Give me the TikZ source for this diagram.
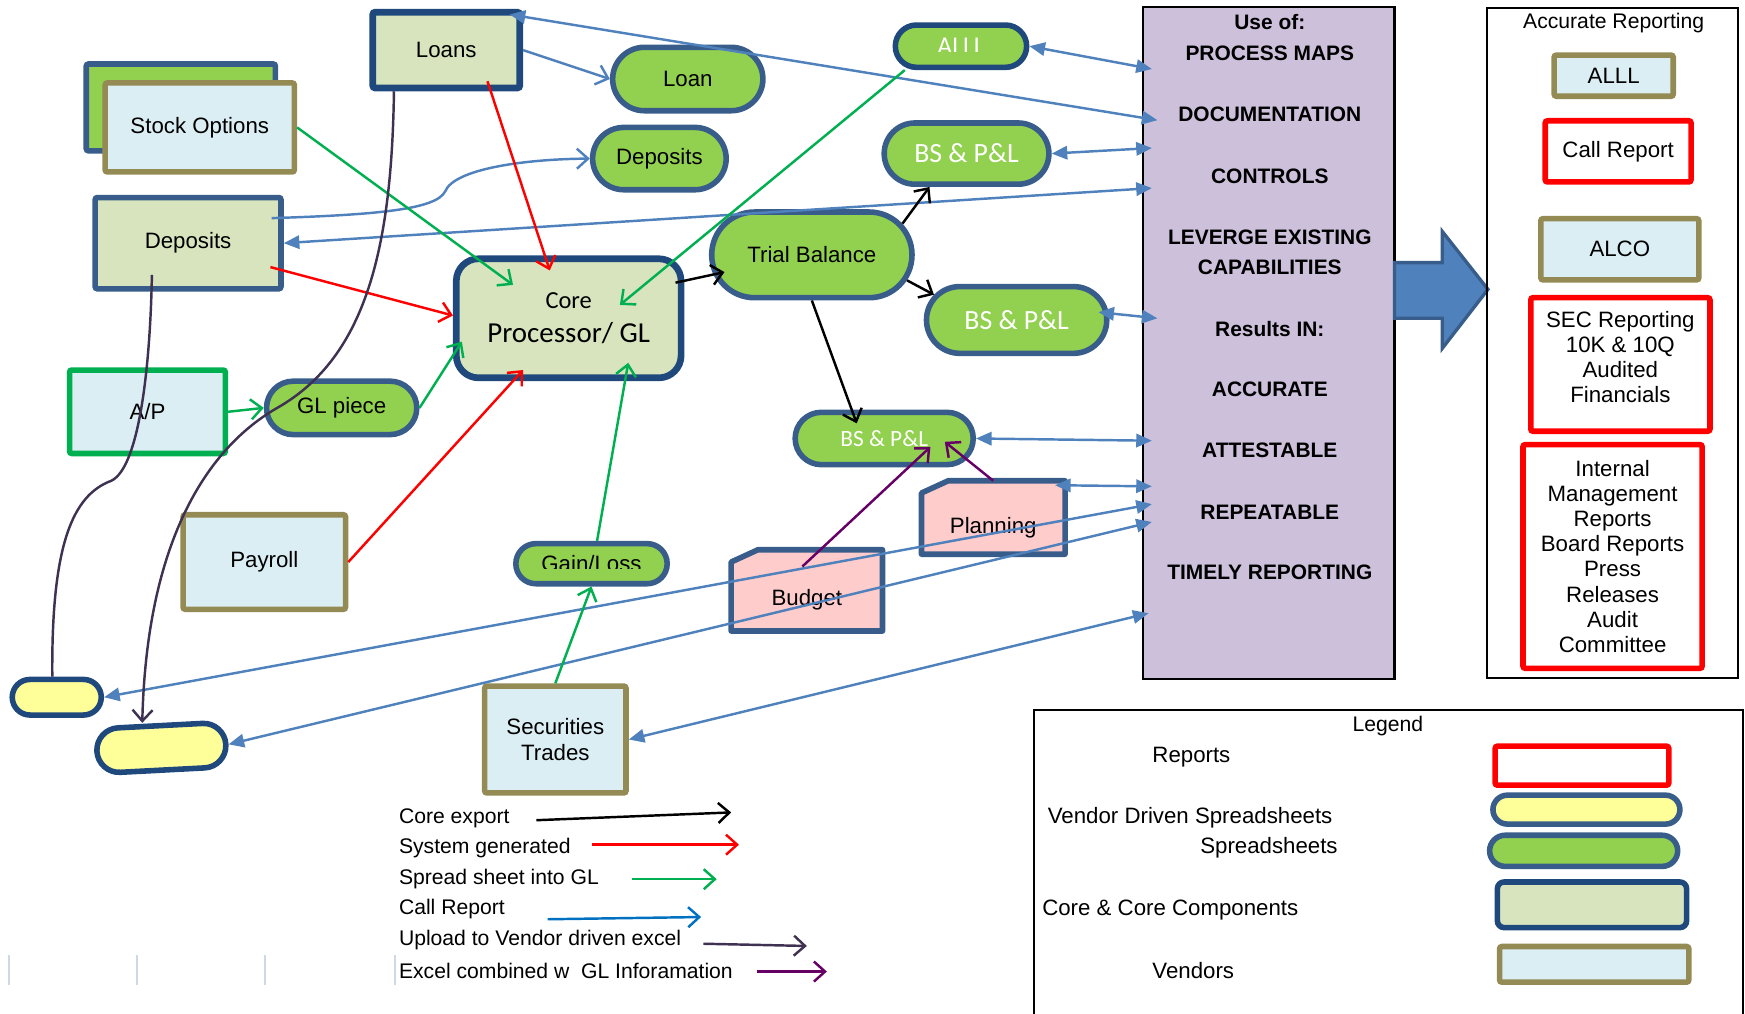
\documentclass[tikz,border=0pt]{standalone}
\usepackage{fontspec}
\setmainfont{Liberation Sans}
\newfontfamily\calib{Carlito}
\usetikzlibrary{arrows.meta, shapes.misc, backgrounds}
\definecolor{cline}{HTML}{385D8A}
\definecolor{cdark}{HTML}{1F497D}
\definecolor{csheet}{HTML}{92D050}
\definecolor{ccore}{HTML}{D7E4BD}
\definecolor{cvend}{HTML}{DBEEF4}
\definecolor{colive}{HTML}{948A54}
\definecolor{cyel}{HTML}{FFFF99}
\definecolor{cpink}{HTML}{FFCCCC}
\definecolor{cpurp}{HTML}{CCC0DA}
\definecolor{cblue}{HTML}{4F81BD}
\definecolor{cgreen}{HTML}{00B050}
\definecolor{cred}{HTML}{FF0000}
\definecolor{cupl}{HTML}{3F3151}
\definecolor{cxgl}{HTML}{660066}
\definecolor{ccall}{HTML}{0070C0}
\definecolor{cgrid}{HTML}{D0D7E5}

\begin{document}
\begin{tikzpicture}[x=1pt, y=-1pt, font=\fontsize{20}{22.6}\selectfont,
      box/.style={rectangle, line width=5pt, inner sep=0pt, align=center},
      sheet/.style={rounded rectangle, draw=cline, fill=csheet, line width=5pt, inner sep=0pt},
      vsheet/.style={sheet, draw=cdark, fill=cyel},
      core/.style={box, rounded corners=8pt, draw=cdark, fill=ccore},
      vend/.style={box, rounded corners=2pt, draw=colive, fill=cvend},
      rpt/.style={box, rounded corners=2pt, draw=cred, fill=white},
      plantxt/.style={box, draw=none, text height=28pt, text depth=0pt},
      planbox/.style={draw=cline, fill=cpink, line width=5pt, line join=round},
      mtext/.style={font=\fontsize{18.8}{20}\selectfont\bfseries},
      bstext/.style={text=white, font=\calib\fontsize{25}{28}\selectfont},
      cexp/.style={-{Straight Barb[length=10pt,width=18pt]}, line width=2.2pt, black},
      sysg/.style={cexp, cred},
      sgl/.style={cexp, cgreen},
      clrep/.style={cexp, ccall},
      vup/.style={line width=2.2pt, cupl},
      xgl/.style={cexp, cxgl},
      crep/.style={{Triangle[length=14pt,width=12pt]}-{Triangle[length=14pt,width=12pt]}, line width=2.2pt, cblue}]
    \useasboundingbox (0,0) rectangle (1568,911);

    % sources and core
    \node[box, rounded corners=2pt, draw=cline, fill=csheet, minimum width=170pt, minimum height=78pt] (stockbg) at (162.5,96.5) {};
    \node[vend, minimum width=170pt, minimum height=80pt] (stock) at (179.5,114.5) {Stock Options};
    \node[core, line width=6pt, rounded corners=2pt, minimum width=132pt, minimum height=68pt] (loans) at (401,45) {Loans};
    \node[core, draw=cline, rounded corners=2pt, minimum width=167pt, minimum height=82pt] (deposits) at (169,218.5) {Deposits};
    \node[vend, draw=cgreen, minimum width=140pt, minimum height=75pt] (ap) at (132.5,370) {A/P};
    \node[vend, minimum width=146pt, minimum height=85pt] (payroll) at (237.5,505) {Payroll};
    \node[vend, minimum width=127pt, minimum height=96pt] (sec) at (499,664.5) {Securities\\Trades};
    \node[core, line width=6pt, rounded corners=20pt, minimum width=202pt, minimum height=107pt,
          font=\calib\fontsize{22}{31}\selectfont] (core) at (511,286) {Core\\{\fontsize{26}{31}\selectfont Processor/ GL}};

    % spreadsheets
    \node[sheet, minimum width=135pt, minimum height=57pt] (loan) at (618,71) {Loan};
    \node[sheet, minimum width=120pt, minimum height=56pt] (depgl) at (592.5,142.5) {Deposits};
    \node[sheet, draw=cdark, minimum width=118pt, minimum height=38pt] (alll) at (863.5,41.5) {};
    \node[sheet, bstext, minimum width=148pt, minimum height=55pt] (bsa) at (868.5,138) {BS \& P\&L};
    \node[sheet, minimum width=180pt, minimum height=77pt] (trial) at (729.5,229) {Trial Balance};
    \node[sheet, bstext, minimum width=162pt, minimum height=60pt] (bsb) at (913.5,287.5) {BS \& P\&L};
    \node[sheet, minimum width=135pt, minimum height=48pt] (glpiece) at (307,366.5) {GL piece};
    \node[sheet, bstext, font=\calib\fontsize{21}{24}\selectfont, minimum width=160pt, minimum height=47pt] (bsc) at (794.5,394) {BS \& P\&L};
    \node[sheet, minimum width=136pt, minimum height=36pt] (gainloss) at (531.5,506.5) {};
    \node[vsheet, minimum width=80pt, minimum height=32pt] (yelsmall) at (51,626.5) {};
    \node[vsheet, rotate=3, minimum width=116pt, minimum height=40pt] (yelbig) at (145,672) {};
    \node[plantxt, minimum width=124pt, minimum height=61pt] (planning) at (892.5,465) {Planning};
    \node[plantxt, minimum width=131pt, minimum height=68pt] (budget) at (725,530.5) {Budget};
    \begin{scope}[on background layer]
      \foreach \n in {planning, budget}
        \filldraw[planbox] ([yshift=-11pt]\n.north west) -- ([xshift=24pt]\n.north west) -- (\n.north east)
          -- (\n.south east) -- (\n.south west) -- cycle;
    \end{scope}
    \begin{scope}
      \clip (800,15) rectangle (930,46.5);
      \node[bstext, font=\calib\fontsize{23}{26}\selectfont] (alllt) at (alll.center) {ALLL};
    \end{scope}
    \begin{scope}
      \clip (455,480) rectangle (610,511);
      \node (gainlosst) at (gainloss.center) {Gain/Loss};
    \end{scope}

    % uses
    \node[box, draw=black, line width=2pt, fill=cpurp, minimum width=226pt, minimum height=604pt] (uses) at (1140,308) {};
    \foreach \y/\t [count=\i] in {20/Use of:, 48/PROCESS MAPS, 103/DOCUMENTATION, 158/CONTROLS, 213/LEVERGE EXISTING,
        240/CAPABILITIES, 296/Results IN:, 350/ACCURATE, 405/ATTESTABLE, 460/REPEATABLE, 514/TIMELY REPORTING}
      \node[mtext] (m\i) at (1141,\y) {\t};
    \filldraw[fill=cblue, draw=cline, line width=3pt] (1253,236) -- (1296,236) -- (1296,208) -- (1337,260)
      -- (1296,313) -- (1296,286) -- (1253,286) -- cycle;

    % reporting
    \node[box, draw=black, line width=2pt, minimum width=226pt, minimum height=602pt] (rep) at (1449,308) {};
    \node[font=\fontsize{19}{22}\selectfont] (reptitle) at (1450,21) {Accurate Reporting};
    \node[vend, minimum width=107pt, minimum height=37pt] (allr) at (1450,68) {ALLL};
    \node[rpt, minimum width=131pt, minimum height=55pt] (callr) at (1454,136) {Call Report};
    \node[vend, minimum width=142pt, minimum height=55pt] (alco) at (1455.5,224) {ALCO};
    \node[rpt, minimum width=161pt, minimum height=120pt] (secr) at (1456,327.5) {SEC Reporting\\10K \& 10Q\\Audited\\Financials\\[-9pt]};
    \node[rpt, minimum width=161pt, minimum height=201pt] (intr) at (1449,500)
      {Internal\\Management\\Reports\\Board Reports\\Press\\Releases\\Audit\\Committee};

    % legend
    \node[box, draw=black, line width=2pt, minimum width=637pt, minimum height=290pt] (legend) at (1247.5,783) {};
    \node[font=\fontsize{19}{22}\selectfont] (lgtitle) at (1247,652) {Legend};
    \node[anchor=west] (lgt1) at (1032,680) {Reports};
    \node[anchor=west] (lgt2) at (938,735) {Vendor Driven Spreadsheets};
    \node[anchor=west] (lgt3) at (1075,762) {Spreadsheets};
    \node[anchor=west] (lgt4) at (933,818) {Core \& Core Components};
    \node[anchor=west] (lgt5) at (1032,872) {Vendors};
    \node[rpt, minimum width=156pt, minimum height=35pt] (lgrep) at (1421.5,688) {};
    \node[vsheet, draw=cline, minimum width=168pt, minimum height=26pt] (lgyel) at (1425.5,727.5) {};
    \node[sheet, minimum width=169pt, minimum height=28pt] (lggrn) at (1423,764.5) {};
    \node[core, rounded corners=6pt, minimum width=170pt, minimum height=41pt] (lgcore) at (1430.5,813) {};
    \node[vend, minimum width=170pt, minimum height=32pt] (lgven) at (1432.5,866.5) {};

    \foreach \y/\t [count=\i] in {735/Core export, 762/System generated, 790/Spread sheet into GL, 817/Call Report,
        845/Upload to Vendor driven excel, 872/Excel combined w\ \ GL Inforamation}
      \node[anchor=west, font=\fontsize{19}{21}\selectfont] (k\i) at (355,\y) {\t};
    \coordinate (a1) at (482,737); \coordinate (b1) at (657,730);
    \coordinate (a2) at (532,759); \coordinate (b2) at (664,759);
    \coordinate (a3) at (568,790); \coordinate (b3) at (644,790);
    \coordinate (a4) at (492,826); \coordinate (b4) at (630,824);
    \coordinate (a5) at (632,848); \coordinate (b5) at (725,850);
    \coordinate (a6) at (680,873); \coordinate (b6) at (743,873);
    \draw[cexp] (a1) -- (b1);
    \draw[sysg] (a2) -- (b2);
    \draw[sgl] (a3) -- (b3);
    \draw[clrep] (a4) -- (b4);
    \draw[vup, -{Straight Barb[length=10pt,width=18pt]}] (a5) -- (b5);
    \draw[xgl] (a6) -- (b6);
    \foreach \x in {8,123,238,355}
      \draw[cgrid, line width=1.2pt] (\x,858) -- (\x,885);

    % connectors
    \coordinate (pa) at (1035,62);
    \coordinate (pb) at (1040,108);
    \coordinate (pc) at (1035,133);
    \coordinate (pd) at (1035,169);
    \coordinate (pe) at (1040,286);
    \coordinate (pf) at (1035,396);
    \coordinate (pg) at (1035,437);
    \coordinate (ph) at (1035,453);
    \coordinate (pi) at (1035,469);
    \coordinate (pj) at (1032,551);

    \draw[crep] (alll.east) -- (pa);
    \draw[crep] ([shift={(-12pt,-5pt)}]loans.north east) -- (pb);
    \draw[crep] (bsa.east) -- (pc);
    \draw[crep] (deposits.east) -- (pd);
    \draw[crep] ([shift={(-10pt,7pt)}]bsb.east) -- (pe);
    \draw[crep] (bsc.east) -- (pf);
    \draw[crep] ([shift={(-9pt,-4pt)}]planning.north east) -- (pg);
    \draw[crep] (yelsmall.east) -- (ph);
    \draw[crep] (yelbig.east) -- (pi);
    \draw[crep] (sec.east) -- (pj);
    \draw[cexp, cblue] (loans.east) -- (loan.west);
    \draw[cexp, cblue] ([shift={(75pt,22.5pt)}]deposits.center) .. controls (340,193) and (392,188) .. (400,172)
      .. controls (408,152) and (470,143) .. (depgl.west);

    \draw[cexp] ([shift={(-8pt,32pt)}]core.east) -- ([shift={(14pt,-15.5pt)}]trial.west);
    \draw[cexp] (trial.19) -- (bsa.222);
    \draw[cexp] (trial.-15) -- (bsb.163);
    \draw[cexp] (trial.south) -- ([shift={(-24.7pt,13.6pt)}]bsc.center);

    \draw[sysg] ([shift={(37pt,-28pt)}]loans.center) -- ([shift={(-17pt,43pt)}]core.center);
    \draw[sysg] ([shift={(74pt,-21.5pt)}]deposits.center) -- ([yshift=2.5pt]core.west);
    \draw[sysg] (payroll.east) -- ([shift={(-41pt,-46.5pt)}]core.center);

    \draw[sgl] (stock.east) -- ([shift={(-50pt,30pt)}]core.center);
    \draw[sgl] ([shift={(-50.5pt,-21.5pt)}]alll.center) -- ([shift={(46pt,12pt)}]core.center);
    \draw[sgl] (ap.east) -- (glpiece.west);
    \draw[sgl] (glpiece.east) -- ([shift={(-96pt,-21pt)}]core.center);
    \draw[sgl] ([xshift=5pt]gainloss.north) -- ([shift={(53.5pt,-40pt)}]core.center);
    \draw[sgl] (sec.north) -- (gainloss.south);

    \draw[xgl] ([shift={(-4pt,21.5pt)}]budget.center) -- ([shift={(41.5pt,-7.6pt)}]bsc.center);
    \draw[xgl] (planning.north) -- ([shift={(54.5pt,-3pt)}]bsc.center);

    \draw[vup] ([shift={(-32.5pt,-28.5pt)}]deposits.center) .. controls (135,330) and (125,420) .. (100,432)
      .. controls (65,445) and (46,490) .. ([xshift=-4pt]yelsmall.north);
    \draw[vup, -{Straight Barb[length=10pt,width=18pt]}] ([shift={(-47pt,-37pt)}]loans.center)
      .. controls (352,220) and (330,320) .. (250,366) .. controls (190,400) and (132,480) .. ([xshift=-16pt]yelbig.north);
  \end{tikzpicture}
\end{document}
